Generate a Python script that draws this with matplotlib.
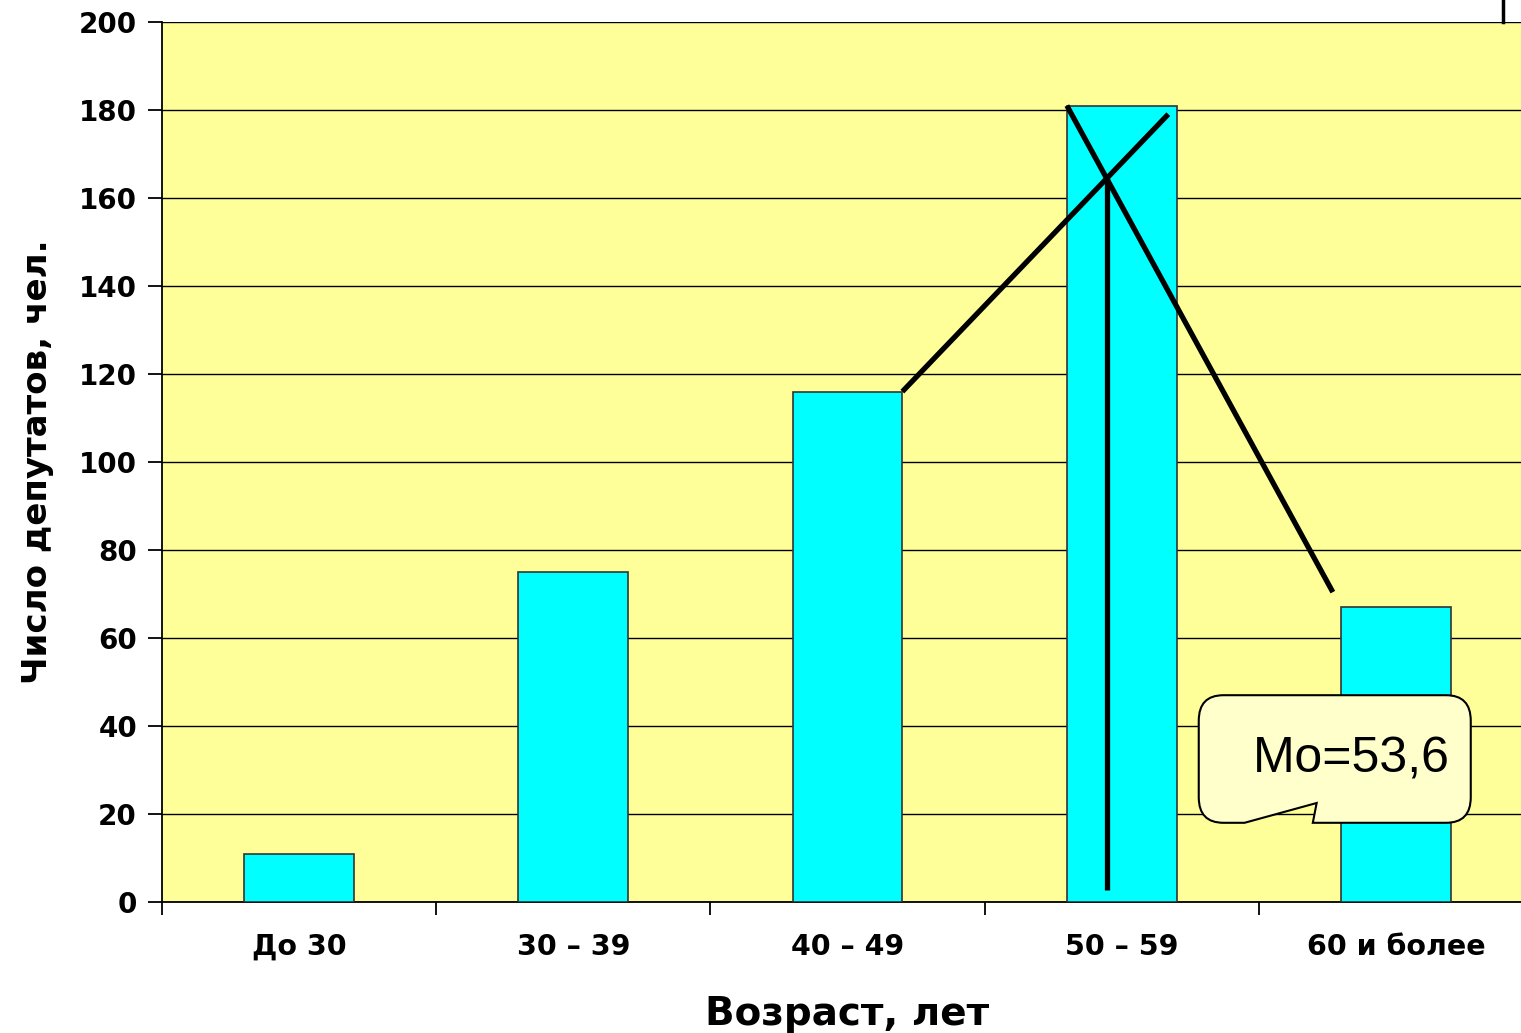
import matplotlib.pyplot as plt
import numpy as np
from matplotlib.path import Path
from matplotlib.patches import PathPatch
from matplotlib.lines import Line2D

plt.rcParams["font.family"] = ["DejaVu Sans"]

# data
categories = ["До 30", "30 – 39", "40 – 49", "50 – 59", "60 и более"]
counts = [11, 75, 116, 181, 67]
lower_bounds = [20, 30, 40, 50, 60]
interval = 10

fig = plt.figure(figsize=(15.21, 10.33), dpi=100)
ax = fig.add_axes([162 / 1521, 131 / 1033, 1371 / 1521, 880 / 1033])
ax.set_facecolor("#FFFF99")

x = np.arange(len(categories))
bar_w = 0.4
ax.bar(x, counts, width=bar_w, color="#00FFFF", edgecolor="#333333", linewidth=1.2, zorder=3)

ax.set_xlim(-0.5, len(categories) - 0.5)
ax.set_ylim(0, 200)
ax.set_yticks(range(0, 201, 20))
ax.yaxis.grid(True, color="black", linewidth=1)
ax.set_axisbelow(True)

ax.set_xticks(np.arange(-0.5, len(categories), 1))
ax.set_xticklabels([])
ax.set_xticks(x, minor=True)
ax.set_xticklabels(categories, minor=True, fontsize=20.5, fontweight="bold")
ax.tick_params(axis="x", which="major", length=9, width=1.3, color="black")
ax.tick_params(axis="x", which="minor", length=0, pad=22)
ax.tick_params(axis="y", length=10, width=1.3, labelsize=20, pad=8)
for lbl in ax.get_yticklabels():
    lbl.set_fontweight("bold")

for s in ["top", "right"]:
    ax.spines[s].set_visible(False)
ax.spines["left"].set_linewidth(1.3)
ax.spines["bottom"].set_linewidth(1.3)

ax.set_xlabel("Возраст, лет", fontsize=28, fontweight="bold", labelpad=25)
ax.set_ylabel("Число депутатов, чел.", fontsize=24.5, fontweight="bold", labelpad=18)

# graphic determination of the mode
m = int(np.argmax(counts))
p1 = np.array([m - 1 + bar_w / 2, counts[m - 1]])
p2 = np.array([m + bar_w / 2, counts[m]])
q1 = np.array([m - bar_w / 2, counts[m]])
q2 = np.array([m + 1 - bar_w / 2, counts[m + 1]])
k = 0.97
e1 = p1 + (p2 - p1) * k
e2 = q1 + (q2 - q1) * k
ax.plot([p1[0], e1[0]], [p1[1], e1[1]], color="black", lw=3.8, zorder=5, solid_capstyle="butt")
ax.plot([q1[0], e2[0]], [q1[1], e2[1]], color="black", lw=3.8, zorder=5, solid_capstyle="butt")

s1 = (p2[1] - p1[1]) / (p2[0] - p1[0])
s2 = (q2[1] - q1[1]) / (q2[0] - q1[0])
xi = (q1[1] - p1[1] + s1 * p1[0] - s2 * q1[0]) / (s1 - s2)
yi = p1[1] + s1 * (xi - p1[0])
ax.plot([xi, xi], [yi, 2.7], color="black", lw=3.8, zorder=5, solid_capstyle="butt")

d1 = counts[m] - counts[m - 1]
d2 = counts[m] - counts[m + 1]
mode = lower_bounds[m] + interval * d1 / (d1 + d2)

# callout box with notch
x0, x1, y0, y1 = 3.281, 4.273, 18.0, 47.0
rx, ry = 0.09, 5.8
tail = [(3.448, 18.0), (3.711, 22.5), (3.697, 18.0)]
verts = [
    (x0 + rx, y1), (x1 - rx, y1), (x1, y1), (x1, y1 - ry),
    (x1, y0 + ry), (x1, y0), (x1 - rx, y0),
    tail[2], tail[1], tail[0],
    (x0 + rx, y0), (x0, y0), (x0, y0 + ry),
    (x0, y1 - ry), (x0, y1), (x0 + rx, y1),
]
codes = [
    Path.MOVETO, Path.LINETO, Path.CURVE3, Path.CURVE3,
    Path.LINETO, Path.CURVE3, Path.CURVE3,
    Path.LINETO, Path.LINETO, Path.LINETO,
    Path.LINETO, Path.CURVE3, Path.CURVE3,
    Path.LINETO, Path.CURVE3, Path.CURVE3,
]
ax.add_patch(PathPatch(Path(verts, codes), facecolor="#FFFFCC", edgecolor="black", lw=1.5, zorder=6))
ax.text(3.839, 32.3, "Мо=" + f"{mode:.1f}".replace(".", ","), fontsize=36,
        family=["Liberation Sans", "DejaVu Sans"],
        ha="center", va="center", zorder=7)

fig.add_artist(Line2D([1503 / 1521, 1503 / 1521], [1, 1 - 22 / 1033], color="black", lw=2.5))

fig.savefig("out.png", dpi=100)
